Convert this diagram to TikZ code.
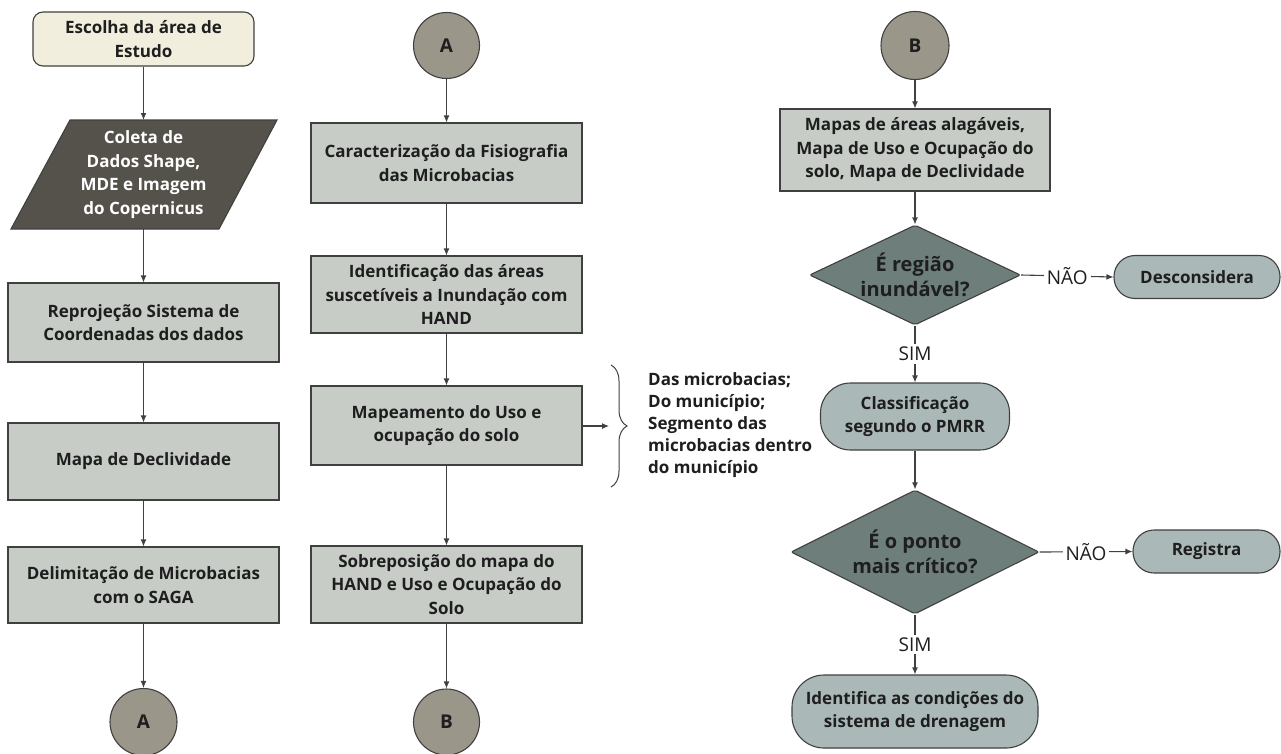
\documentclass[tikz,border=0pt]{standalone}
\usepackage{fontspec}
\setmainfont{Open Sans}
\usetikzlibrary{shapes.geometric,arrows.meta,decorations.pathreplacing}
\definecolor{creamfill}{HTML}{F2EEDD}
\definecolor{parafill}{HTML}{55524C}
\definecolor{procfill}{HTML}{C7CCC7}
\definecolor{circfill}{HTML}{9B968A}
\definecolor{diafill}{HTML}{6D7E7B}
\definecolor{termfill}{HTML}{AAB8B7}
\definecolor{edgecol}{HTML}{404040}
\definecolor{txtcol}{HTML}{1E1E1E}
\begin{document}
\begin{tikzpicture}[x=1pt,y=-1pt,
  every node/.style={font=\bfseries\fontsize{17}{23.5}\selectfont, align=center, text=txtcol, inner sep=0pt},
  base/.style={draw=edgecol, line width=1.1pt},
  startbox/.style={base, fill=creamfill, rounded corners=10pt, minimum width=221, minimum height=54},
  paratext/.style={text=white, minimum width=150, minimum height=109},
  procbox/.style={base, fill=procfill, minimum width=271, minimum height=78},
  connector/.style={base, fill=circfill, circle, minimum size=67, font=\bfseries\fontsize{19}{23}\selectfont},
  decision/.style={base, fill=diafill, diamond, rounded corners=2pt, font=\bfseries\fontsize{20}{25}\selectfont},
  termbox/.style={base, fill=termfill, rounded corners=21pt},
  flow/.style={draw=edgecol, line width=1.1pt, -{Latex[length=7pt,width=6pt]}},
  elabel/.style={fill=white, inner sep=3pt, font=\mdseries\fontsize{19}{23}\selectfont, text=txtcol}
]
\useasboundingbox (0,0) rectangle (1281,753);

% Column 1
\node[startbox] (start) at (143.5,39) {Escolha da área de\\Estudo};
\draw[base, fill=parafill] (70,120) -- (277,120) -- (219,229) -- (11,229) -- cycle;
\node[paratext] (coleta) at (143.5,174.5) {Coleta de\\Dados Shape,\\MDE e Imagem\\do Copernicus};
\node[procbox, minimum height=79] (reproj) at (143.5,322.5) {Reprojeção Sistema de\\Coordenadas dos dados};
\node[procbox, minimum height=77] (decliv) at (143.5,461.5) {Mapa de Declividade};
\node[procbox, minimum height=76] (delim) at (143.5,585) {Delimitação de Microbacias\\com o SAGA};
\node[connector] (conA1) at (143.5,722) {A};

% Column 2
\node[connector, minimum size=66] (conA2) at (446.5,45.5) {A};
\node[procbox, minimum height=80] (carac) at (446.5,163) {Caracterização da Fisiografia\\das Microbacias};
\node[procbox, minimum height=77] (ident) at (446.5,294.5) {Identificação das áreas\\suscetíveis a Inundação com\\HAND};
\node[procbox, minimum height=79] (mapeam) at (446.5,425.5) {Mapeamento do Uso e\\ocupação do solo};
\node[procbox, minimum height=77] (sobrep) at (446.5,584.5) {Sobreposição do mapa do\\HAND e Uso e Ocupação do\\Solo};
\node[connector, minimum size=66] (conB2) at (446.5,722) {B};

% brace and list
\coordinate (brc) at (609,426);
\draw[edgecol, line width=1pt, decorate, decoration={brace, amplitude=16pt}] (611,365) -- (611,487);
\node[anchor=west, align=left, font=\bfseries\fontsize{17}{22}\selectfont] (lista) at (648,425)
  {Das microbacias;\\Do município;\\Segmento das\\microbacias dentro\\do município};

% Column 3
\node[connector, minimum size=68] (conB3) at (915,45.5) {B};
\node[procbox, minimum width=270, minimum height=82] (mapas) at (915,150) {Mapas de áreas alagáveis,\\Mapa de Uso e Ocupação do\\solo, Mapa de Declividade};
\node[decision, aspect=2.1, minimum width=211, minimum height=100] (dia1) at (915,275) {É região\\inundável?};
\node[termbox, minimum width=189, minimum height=67, rounded corners=30pt] (classif) at (915,416.5) {Classificação\\segundo o PMRR};
\node[decision, aspect=2, minimum width=248, minimum height=124] (dia2) at (915,552) {É o ponto\\mais crítico?};
\node[termbox, minimum width=246, minimum height=73, rounded corners=32pt] (identif) at (915,711.5) {Identifica as condições do\\sistema de drenagem};
\node[termbox, minimum width=166, minimum height=43] (descons) at (1197,277) {Desconsidera};
\node[termbox, minimum width=147, minimum height=43] (registra) at (1206.5,551.5) {Registra};

% Connectors
\draw[flow] (start) -- (coleta.north |- 0,120);
\draw[flow] (coleta) -- (reproj);
\draw[flow] (reproj) -- (decliv);
\draw[flow] (decliv) -- (delim);
\draw[flow] (delim) -- (conA1);

\draw[flow] (conA2) -- (carac);
\draw[flow] (carac) -- (ident);
\draw[flow] (ident) -- (mapeam);
\draw[flow] (mapeam) -- (sobrep);
\draw[flow] (sobrep) -- (conB2);
\draw[flow] (mapeam.east |- brc) -- (brc);

\draw[flow] (conB3) -- (mapas);
\draw[flow] (mapas) -- (dia1);
\draw[flow] (dia1) -- node[elabel] {SIM} (classif);
\draw[flow] (classif) -- (dia2);
\draw[flow] (dia2) -- node[elabel] {SIM} (identif);
\draw[flow] (dia1.east) -- node[elabel] {NÃO} (descons.west);
\draw[flow] (dia2.east) -- node[elabel] {NÃO} (registra.west);
\end{tikzpicture}
\end{document}
